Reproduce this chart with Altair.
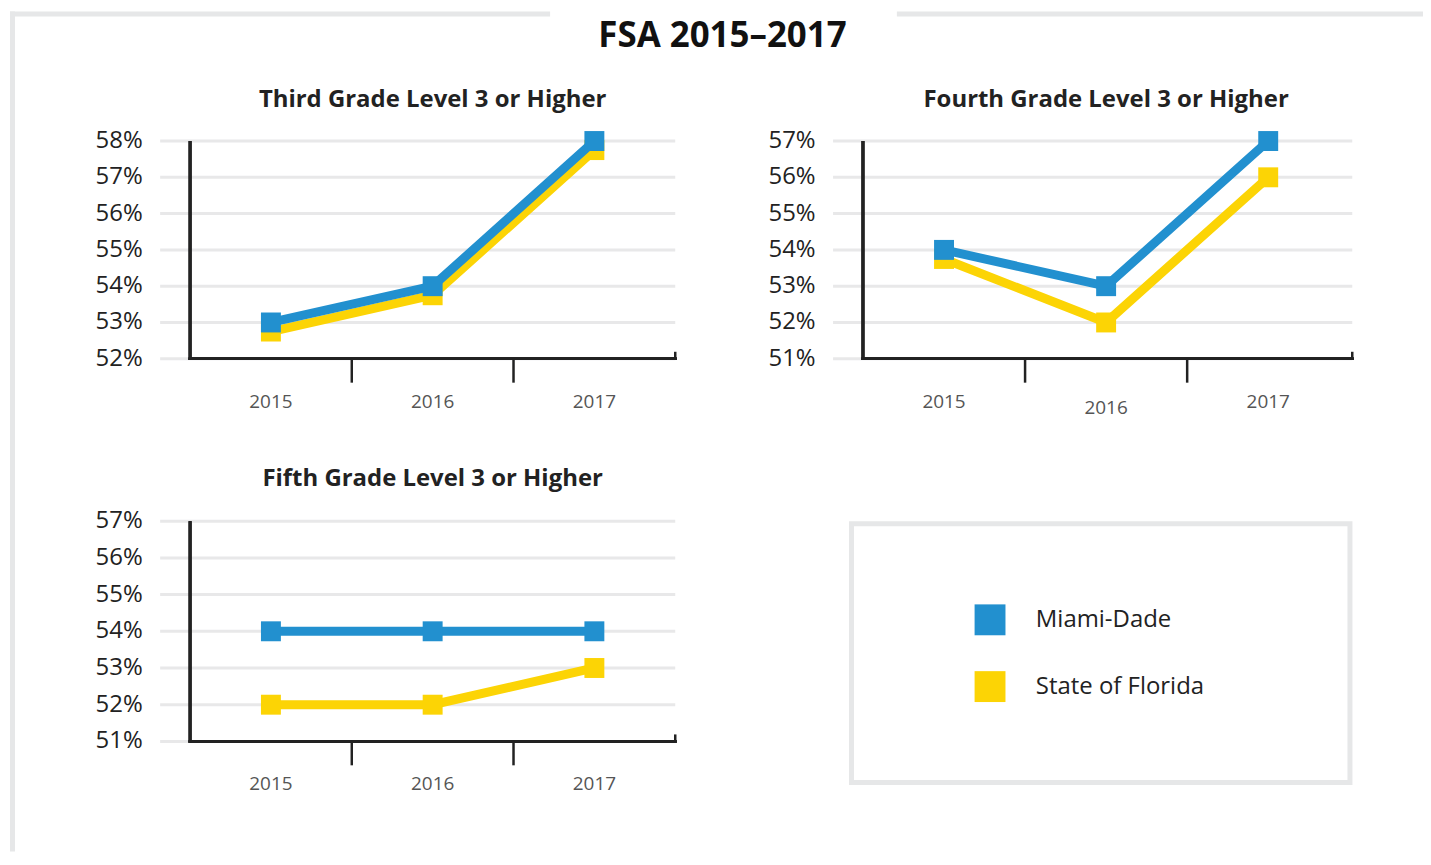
import altair as alt
import pandas as pd

# ---------------- data ----------------
years = [2015, 2016, 2017]
series = ["Miami-Dade", "State of Florida"]
colors = ["#2290CF", "#FCD405"]

third_md = [53, 54, 58]
third_fl = [52.75, 53.75, 57.75]
fourth_md = [54, 53, 57]
fourth_fl = [53.75, 52, 56]
fifth_md = [54, 54, 54]
fifth_fl = [52, 52, 53]

third_ticks = [52, 53, 54, 55, 56, 57, 58]
fourth_ticks = [51, 52, 53, 54, 55, 56, 57]
fifth_ticks = [51, 52, 53, 54, 55, 56, 57]

panel_titles = ["Third Grade Level 3 or Higher",
                "Fourth Grade Level 3 or Higher",
                "Fifth Grade Level 3 or Higher"]
main_title = ["FSA 2015\u20132017"]
band_edges = [2015.5, 2016.5]

FONT = "Open Sans"
GRID = "#e8e8e9"
FRAME = "#e6e7e8"
AXIS = "#222222"


def panel(title, md, fl, ticks, x0, x1, y_top, y_bot, x_end, title_y, low_label=None):
    xs = alt.Scale(domain=[2014.5, 2017.5], range=[x0, x1])
    ys = alt.Scale(domain=[ticks[0], ticks[-1]], range=[y_bot, y_top])
    df = pd.DataFrame({
        "year": years * 2,
        "value": md + fl,
        "series": [series[0]] * 3 + [series[1]] * 3,
    })
    X = alt.X("year:Q", scale=xs, axis=None)
    Y = alt.Y("value:Q", scale=ys, axis=None)

    tick_df = pd.DataFrame({"v": ticks, "label": [f"{t}%" for t in ticks]})
    grid = alt.Chart(tick_df).mark_rule(color=GRID, strokeWidth=3).encode(
        y=alt.Y("v:Q", scale=ys, axis=None),
        x=alt.value(x0 - 30), x2=alt.value(x_end))
    ylabels = alt.Chart(tick_df).mark_text(
        align="right", baseline="middle", font=FONT, fontSize=24, color="#222222"
    ).encode(y=alt.Y("v:Q", scale=ys, axis=None), x=alt.value(x0 - 47.5), text="label:N")

    yaxis = alt.Chart(tick_df).mark_rule(color=AXIS, strokeWidth=2.5).encode(
        x=alt.value(x0), y=alt.value(y_top), y2=alt.value(y_bot + 1.25))
    xaxis = alt.Chart(tick_df).mark_rule(color=AXIS, strokeWidth=2.5).encode(
        y=alt.value(y_bot), x=alt.value(x0 - 1.25), x2=alt.value(x_end + 1.25))
    edge_df = pd.DataFrame({"t": band_edges})
    bticks = alt.Chart(edge_df).mark_rule(color=AXIS, strokeWidth=2.5).encode(
        x=alt.X("t:Q", scale=xs, axis=None), y=alt.value(y_bot), y2=alt.value(y_bot + 24))
    endtick = alt.Chart(edge_df.head(1)).mark_rule(color=AXIS, strokeWidth=2.5).encode(
        x=alt.value(x_end), y=alt.value(y_bot - 7), y2=alt.value(y_bot))

    ydf = pd.DataFrame({"year": years, "label": [str(y) for y in years]})
    xl_base = alt.Chart(ydf).mark_text(
        align="center", baseline="middle", font=FONT, fontSize=19, color="#555555")
    if low_label is None:
        xlabels = [xl_base.encode(x=X, y=alt.value(y_bot + 43), text="label:N")]
    else:
        xlabels = [
            xl_base.transform_filter(alt.datum.year != low_label).encode(
                x=X, y=alt.value(y_bot + 43), text="label:N"),
            xl_base.transform_filter(alt.datum.year == low_label).encode(
                x=X, y=alt.value(y_bot + 49.5), text="label:N"),
        ]

    layers = [grid, ylabels, yaxis, xaxis, bticks, endtick] + xlabels
    for s, c in [(series[1], colors[1]), (series[0], colors[0])]:
        base = alt.Chart(df).transform_filter(alt.datum.series == s)
        layers.append(base.mark_line(color=c, strokeWidth=9).encode(x=X, y=Y))
        layers.append(base.mark_square(color=c, size=400, opacity=1).encode(x=X, y=Y))

    tdf = pd.DataFrame({"t": [title]})
    layers.append(alt.Chart(tdf).mark_text(
        align="center", baseline="alphabetic", font=FONT, fontSize=24,
        fontWeight="bold", color="#222222"
    ).encode(x=alt.value((x0 + x1) / 2), y=alt.value(title_y), text="t:N"))
    return alt.layer(*layers)


p1 = panel(panel_titles[0], third_md, third_fl, third_ticks,
           182.7, 669.6, 132, 350.5, 669.6, 98.3)
p2 = panel(panel_titles[1], fourth_md, fourth_fl, fourth_ticks,
           858, 1346, 132, 350.5, 1349, 98.3, low_label=2016)
p3 = panel(panel_titles[2], fifth_md, fifth_fl, fifth_ticks,
           182.7, 669.6, 513.5, 734.5, 669.6, 478.3)

# ---------------- legend ----------------
leg_df = pd.DataFrame({"series": series})
legY = alt.Y("series:N",
             scale=alt.Scale(domain=series, range=[612.5, 679.5], padding=0),
             axis=None)
leg_box = alt.Chart(leg_df.head(1)).mark_rect(
    fill="white", stroke=FRAME, strokeWidth=5
).encode(x=alt.value(846.5), x2=alt.value(1346.7), y=alt.value(516), y2=alt.value(775.7))
leg_sq = alt.Chart(leg_df).mark_square(size=961, opacity=1).encode(
    x=alt.value(985.5), y=legY,
    color=alt.Color("series:N", scale=alt.Scale(domain=series, range=colors), legend=None))
leg_txt = alt.Chart(leg_df).mark_text(
    align="left", baseline="middle", font=FONT, fontSize=24, color="#222222"
).encode(x=alt.value(1031.5), y=legY, text="series:N")
legend = alt.layer(leg_box, leg_sq, leg_txt)

# ---------------- frame + main title ----------------
fdf = pd.DataFrame({"t": main_title})
frame_left_top = alt.Chart(fdf).mark_rule(color=FRAME, strokeWidth=5).encode(
    y=alt.value(4.5), x=alt.value(2), x2=alt.value(544))
frame_right_top = alt.Chart(fdf).mark_rule(color=FRAME, strokeWidth=5).encode(
    y=alt.value(4.5), x=alt.value(892), x2=alt.value(1420))
frame_left = alt.Chart(fdf).mark_rule(color=FRAME, strokeWidth=5).encode(
    x=alt.value(4.5), y=alt.value(2), y2=alt.value(845))
title_txt = alt.Chart(fdf).mark_text(
    align="center", baseline="alphabetic", font=FONT, fontSize=35,
    fontWeight="bold", color="#111111"
).encode(x=alt.value(717), y=alt.value(38), text="t:N")
frame = alt.layer(frame_left_top, frame_right_top, frame_left, title_txt)

chart = alt.layer(frame, p1, p2, p3, legend).resolve_scale(
    x="independent", y="independent"
).properties(
    width=1420, height=845, padding=0,
    autosize=alt.AutoSizeParams(type="none"),
).configure_view(strokeWidth=0)

chart.save("out.html", embed_options={"renderer": "svg", "actions": False})
